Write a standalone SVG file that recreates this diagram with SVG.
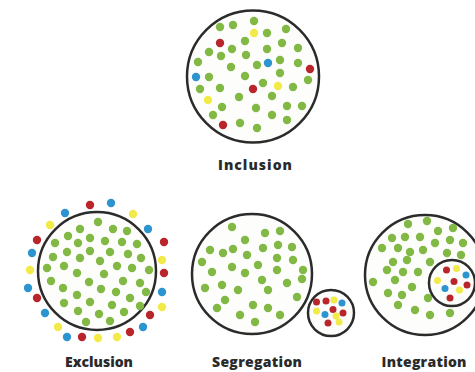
<svg xmlns="http://www.w3.org/2000/svg" width="475" height="372" viewBox="0 0 475 372">
<style>
.ring{fill:#fdfefc;stroke:#2b2b2b;stroke-width:2.5}
.g{fill:#82b844}
.r{fill:#b8262c}
.b{fill:#2c95cf}
.y{fill:#f2ea48}
.lbl{font-family:"Open Sans","DejaVu Sans",sans-serif;font-weight:800;font-size:14px;fill:#2a2a2a;text-anchor:middle}
</style>
<rect width="475" height="372" fill="#ffffff"/>
<defs>
<circle id="d" r="4.2"/>
<circle id="s" r="3.5"/>
</defs>
<g id="inclusion">
<circle class="ring" cx="253" cy="76.5" r="66"/>
<g class="g">
<use href="#d" x="220" y="27"/><use href="#d" x="233" y="25"/><use href="#d" x="254" y="21"/><use href="#d" x="267" y="33"/><use href="#d" x="286" y="29"/>
<use href="#d" x="245" y="41"/><use href="#d" x="209" y="52"/><use href="#d" x="232" y="49"/><use href="#d" x="267" y="49"/><use href="#d" x="282" y="43"/><use href="#d" x="298" y="48"/>
<use href="#d" x="221" y="56"/><use href="#d" x="246" y="55"/><use href="#d" x="198" y="62"/><use href="#d" x="257" y="65"/><use href="#d" x="280" y="60"/><use href="#d" x="298" y="63"/>
<use href="#d" x="231" y="67"/><use href="#d" x="209" y="77"/><use href="#d" x="245" y="76"/><use href="#d" x="280" y="73"/><use href="#d" x="308" y="80"/>
<use href="#d" x="263" y="83"/><use href="#d" x="293" y="87"/><use href="#d" x="200" y="89"/><use href="#d" x="220" y="88"/>
<use href="#d" x="239" y="97"/><use href="#d" x="272" y="96"/><use href="#d" x="222" y="107"/><use href="#d" x="287" y="106"/><use href="#d" x="302" y="106"/><use href="#d" x="256" y="108"/>
<use href="#d" x="213" y="115"/><use href="#d" x="272" y="115"/><use href="#d" x="240" y="123"/><use href="#d" x="257" y="128"/><use href="#d" x="287" y="120"/>
</g>
<use href="#d" class="y" x="254" y="33"/>
<use href="#d" class="r" x="220" y="43"/>
<use href="#d" class="b" x="268" y="63"/>
<use href="#d" class="r" x="310" y="69"/>
<use href="#d" class="b" x="196" y="77"/>
<use href="#d" class="y" x="278" y="86"/>
<use href="#d" class="r" x="253" y="89"/>
<use href="#d" class="y" x="208" y="100"/>
<use href="#d" class="r" x="223" y="125"/>
<text class="lbl" x="255" y="170" textLength="74" lengthAdjust="spacing">Inclusion</text>
</g>
<g id="exclusion">
<circle class="ring" cx="97" cy="271" r="59"/>
<g class="g">
<use href="#d" x="98" y="222"/>
<use href="#d" x="80" y="229"/><use href="#d" x="113" y="229"/><use href="#d" x="127" y="231"/>
<use href="#d" x="68" y="236"/><use href="#d" x="90" y="238"/><use href="#d" x="105" y="241"/>
<use href="#d" x="55" y="243"/><use href="#d" x="78" y="243"/><use href="#d" x="122" y="242"/><use href="#d" x="137" y="244"/>
<use href="#d" x="67" y="252"/><use href="#d" x="90" y="251"/><use href="#d" x="110" y="252"/><use href="#d" x="128" y="254"/>
<use href="#d" x="53" y="257"/><use href="#d" x="80" y="258"/><use href="#d" x="100" y="261"/><use href="#d" x="141" y="258"/>
<use href="#d" x="47" y="268"/><use href="#d" x="64" y="266"/><use href="#d" x="117" y="266"/><use href="#d" x="132" y="268"/><use href="#d" x="149" y="270"/>
<use href="#d" x="77" y="273"/><use href="#d" x="104" y="274"/>
<use href="#d" x="51" y="281"/><use href="#d" x="89" y="282"/><use href="#d" x="123" y="281"/><use href="#d" x="140" y="283"/>
<use href="#d" x="63" y="288"/><use href="#d" x="101" y="289"/><use href="#d" x="116" y="292"/><use href="#d" x="146" y="292"/>
<use href="#d" x="77" y="295"/><use href="#d" x="130" y="298"/>
<use href="#d" x="64" y="303"/><use href="#d" x="90" y="302"/><use href="#d" x="112" y="305"/><use href="#d" x="140" y="306"/>
<use href="#d" x="78" y="311"/><use href="#d" x="99" y="314"/><use href="#d" x="124" y="312"/>
<use href="#d" x="86" y="322"/><use href="#d" x="110" y="321"/>
</g>
<use href="#d" class="r" x="90" y="205"/>
<use href="#d" class="b" x="111" y="203"/>
<use href="#d" class="b" x="65" y="213"/>
<use href="#d" class="y" x="133" y="214"/>
<use href="#d" class="y" x="50" y="225"/>
<use href="#d" class="b" x="148" y="229"/>
<use href="#d" class="r" x="37" y="240"/>
<use href="#d" class="r" x="164" y="242"/>
<use href="#d" class="b" x="32" y="253"/>
<use href="#d" class="y" x="162" y="260"/>
<use href="#d" class="y" x="30" y="270"/>
<use href="#d" class="r" x="164" y="273"/>
<use href="#d" class="b" x="28" y="288"/>
<use href="#d" class="b" x="162" y="292"/>
<use href="#d" class="r" x="37" y="298"/>
<use href="#d" class="y" x="162" y="307"/>
<use href="#d" class="b" x="45" y="313"/>
<use href="#d" class="r" x="150" y="315"/>
<use href="#d" class="y" x="58" y="327"/>
<use href="#d" class="b" x="143" y="327"/>
<use href="#d" class="b" x="67" y="337"/>
<use href="#d" class="r" x="82" y="337"/>
<use href="#d" class="y" x="98" y="338"/>
<use href="#d" class="y" x="117" y="337"/>
<use href="#d" class="r" x="130" y="332"/>
<text class="lbl" x="99" y="367" textLength="68" lengthAdjust="spacing">Exclusion</text>
</g>
<g id="segregation">
<circle class="ring" cx="252" cy="274" r="60"/>
<g class="g">
<use href="#d" x="232" y="227"/><use href="#d" x="265" y="233"/><use href="#d" x="280" y="231"/>
<use href="#d" x="245" y="240"/><use href="#d" x="210" y="250"/><use href="#d" x="223" y="253"/><use href="#d" x="233" y="249"/><use href="#d" x="263" y="248"/><use href="#d" x="278" y="245"/><use href="#d" x="292" y="247"/>
<use href="#d" x="247" y="255"/><use href="#d" x="202" y="262"/><use href="#d" x="232" y="267"/><use href="#d" x="258" y="265"/><use href="#d" x="277" y="258"/><use href="#d" x="293" y="260"/>
<use href="#d" x="212" y="272"/><use href="#d" x="245" y="273"/><use href="#d" x="277" y="270"/><use href="#d" x="303" y="270"/><use href="#d" x="302" y="279"/>
<use href="#d" x="205" y="288"/><use href="#d" x="222" y="285"/><use href="#d" x="262" y="280"/><use href="#d" x="238" y="290"/><use href="#d" x="287" y="283"/><use href="#d" x="268" y="290"/>
<use href="#d" x="225" y="300"/><use href="#d" x="297" y="297"/><use href="#d" x="253" y="305"/><use href="#d" x="217" y="308"/><use href="#d" x="268" y="308"/>
<use href="#d" x="240" y="315"/><use href="#d" x="280" y="315"/><use href="#d" x="255" y="322"/>
</g>
<circle class="ring" cx="331" cy="313" r="23"/>
<use href="#s" class="r" x="316.5" y="302"/>
<use href="#s" class="r" x="326" y="301"/>
<use href="#s" class="y" x="334" y="300"/>
<use href="#s" class="b" x="342" y="303"/>
<use href="#s" class="y" x="316.5" y="311"/>
<use href="#s" class="r" x="333" y="309.5"/>
<use href="#s" class="r" x="343" y="313"/>
<use href="#s" class="b" x="325" y="314.5"/>
<use href="#s" class="y" x="336" y="316"/>
<use href="#s" class="r" x="328" y="323"/>
<use href="#s" class="y" x="339" y="322"/>
<text class="lbl" x="257" y="367" textLength="90" lengthAdjust="spacing">Segregation</text>
</g>
<g id="integration">
<circle class="ring" cx="425" cy="275" r="60"/>
<g class="g">
<use href="#d" x="408" y="224"/><use href="#d" x="427" y="221"/><use href="#d" x="438" y="231"/><use href="#d" x="453" y="228"/>
<use href="#d" x="392" y="238"/><use href="#d" x="405" y="237"/><use href="#d" x="420" y="237"/><use href="#d" x="435" y="243"/><use href="#d" x="450" y="240"/><use href="#d" x="463" y="243"/>
<use href="#d" x="382" y="248"/><use href="#d" x="398" y="248"/><use href="#d" x="410" y="252"/><use href="#d" x="423" y="250"/><use href="#d" x="447" y="253"/><use href="#d" x="461" y="255"/>
<use href="#d" x="393" y="262"/><use href="#d" x="407" y="260"/><use href="#d" x="430" y="262"/>
<use href="#d" x="387" y="270"/><use href="#d" x="403" y="272"/><use href="#d" x="418" y="272"/>
<use href="#d" x="373" y="282"/><use href="#d" x="395" y="280"/><use href="#d" x="412" y="287"/>
<use href="#d" x="388" y="293"/><use href="#d" x="402" y="295"/><use href="#d" x="428" y="298"/>
<use href="#d" x="398" y="305"/><use href="#d" x="415" y="310"/><use href="#d" x="430" y="315"/><use href="#d" x="450" y="313"/>
</g>
<circle class="ring" cx="452" cy="283" r="23"/>
<use href="#s" class="r" x="446.5" y="270"/>
<use href="#s" class="y" x="456.5" y="268.5"/>
<use href="#s" class="b" x="466" y="275"/>
<use href="#s" class="y" x="437.5" y="280.5"/>
<use href="#s" class="r" x="454" y="281.5"/>
<use href="#s" class="r" x="467" y="285"/>
<use href="#s" class="b" x="445" y="288.5"/>
<use href="#s" class="y" x="459.5" y="290"/>
<use href="#s" class="r" x="450" y="298"/>
<text class="lbl" x="424" y="367" textLength="85" lengthAdjust="spacing">Integration</text>
</g>
</svg>
